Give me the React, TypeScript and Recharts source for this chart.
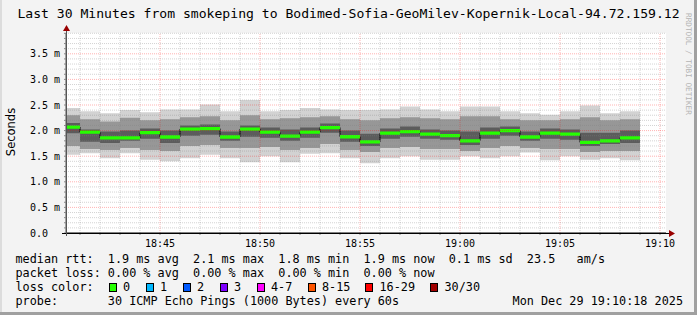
import React from "react"
import { ComposedChart, Area, XAxis, YAxis, CartesianGrid, ReferenceLine } from "recharts"

// minutes after 18:40, start of each 60s sample (first one clipped at 18:40:18)
const sampleStarts = [0.3, 1, 2, 3, 4, 5, 6, 7, 8, 9, 10, 11, 12, 13, 14, 15, 16, 17, 18, 19, 20, 21, 22, 23, 24, 25, 26, 27, 28]
const sampleEnd = 29

// median rtt in ms
const medianMs = [2.07, 1.97, 1.86, 1.86, 1.96, 1.875, 2.03, 2.04, 1.875, 2.03, 1.97, 1.89, 1.97, 2.06, 1.88, 1.78, 1.95, 1.98, 1.93, 1.9, 1.8, 1.95, 2.0, 1.875, 1.95, 1.93, 1.77, 1.8, 1.86]
// smoke bands (ms)
const maxMs = [2.44, 2.38, 2.34, 2.4, 2.36, 2.41, 2.41, 2.51, 2.38, 2.6, 2.38, 2.4, 2.44, 2.41, 2.4, 2.4, 2.41, 2.47, 2.41, 2.38, 2.47, 2.47, 2.38, 2.34, 2.31, 2.38, 2.49, 2.34, 2.38]
const hiMs = [2.3, 2.22, 2.18, 2.25, 2.2, 2.22, 2.26, 2.28, 2.2, 2.3, 2.22, 2.24, 2.26, 2.28, 2.22, 2.2, 2.24, 2.26, 2.24, 2.22, 2.28, 2.28, 2.22, 2.2, 2.2, 2.22, 2.26, 2.2, 2.22]
const hi2Ms = [2.15, 2.02, 1.98, 2.0, 2.04, 2.0, 2.1, 2.12, 1.98, 2.1, 2.06, 2.02, 2.06, 2.14, 2.0, 1.94, 2.04, 2.08, 2.02, 2.0, 1.98, 2.06, 2.08, 1.98, 2.04, 2.02, 1.96, 1.96, 2.0]
const lo2Ms = [1.95, 1.78, 1.76, 1.8, 1.84, 1.76, 1.9, 1.92, 1.8, 1.88, 1.86, 1.8, 1.86, 1.96, 1.78, 1.7, 1.84, 1.88, 1.84, 1.82, 1.72, 1.84, 1.9, 1.8, 1.84, 1.82, 1.7, 1.74, 1.76]
const loMs = [1.7, 1.64, 1.62, 1.66, 1.62, 1.6, 1.7, 1.72, 1.66, 1.66, 1.68, 1.62, 1.66, 1.74, 1.62, 1.58, 1.66, 1.68, 1.64, 1.64, 1.6, 1.66, 1.7, 1.66, 1.64, 1.64, 1.58, 1.6, 1.6]
const minMs = [1.53, 1.56, 1.46, 1.56, 1.43, 1.4, 1.46, 1.53, 1.46, 1.38, 1.5, 1.38, 1.55, 1.56, 1.46, 1.36, 1.46, 1.5, 1.43, 1.43, 1.5, 1.46, 1.5, 1.57, 1.42, 1.5, 1.43, 1.46, 1.42]

const xTickValues = [5, 10, 15, 20, 25, 30]
const xTickLabels = ["18:45", "18:50", "18:55", "19:00", "19:05", "19:10"]
const yTickValues = [0, 0.5, 1, 1.5, 2, 2.5, 3, 3.5]
const yTickLabels = ["0.0", "0.5 m", "1.0 m", "1.5 m", "2.0 m", "2.5 m", "3.0 m", "3.5 m"]

const lossBins = ["0", "1", "2", "3", "4-7", "8-15", "16-29", "30/30"]
const lossColors = ["#26ff00", "#00b8ff", "#0059ff", "#7e00ff", "#ff00ff", "#ff5500", "#ff0000", "#a10000"]

const MONO = "'DejaVu Sans Mono', monospace"

const rows: any[] = sampleStarts.map((t, i) => ({
  t,
  median: medianMs[i],
  outer: [minMs[i], maxMs[i]],
  mid: [loMs[i], hiMs[i]],
  inner: [lo2Ms[i], hi2Ms[i]],
  green: [medianMs[i] - 0.032, medianMs[i] + 0.032],
}))
rows.push({ ...rows[rows.length - 1], t: sampleEnd })

const minorX = Array.from({ length: 30 }, (_, i) => i + 1)
const minorY = Array.from({ length: 39 }, (_, i) => Math.round((i + 1) * 10) / 100)
const isMajorY = (v: number) => Math.abs(v * 2 - Math.round(v * 2)) < 1e-6

const XTick = ({ x, y, payload }: any) => {
  const idx = xTickValues.indexOf(payload.value)
  if (idx < 0) return null
  return (
    <text x={x} y={y + 10} textAnchor="middle" fontFamily={MONO} fontSize={10} fill="#000">
      {xTickLabels[idx]}
    </text>
  )
}

const YTick = ({ x, y, payload }: any) => {
  const idx = yTickValues.findIndex((v) => Math.abs(v - payload.value) < 1e-6)
  if (idx < 0) return null
  return (
    <text x={x - 30} y={y + 3.5} textAnchor="start" fontFamily={MONO} fontSize={10} fill="#000">
      {yTickLabels[idx]}
    </text>
  )
}

const legendLine = (top: number): React.CSSProperties => ({
  position: "absolute",
  left: 15.5,
  top,
  fontFamily: MONO,
  fontSize: 11.8,
  lineHeight: "14px",
  whiteSpace: "pre",
  color: "#000",
})

export default function App() {
  const swatchX = [108.5, 145.5, 182.5, 219.5, 256.5, 307.5, 365, 430]
  return (
    <div
      style={{
        position: "absolute",
        left: 0,
        top: 0,
        width: 697,
        height: 315,
        background: "#f3f3f3",
        overflow: "hidden",
      }}
    >
      <div style={{ position: "absolute", left: 0, top: 0, width: 2, height: 315, background: "#dcdcdc" }} />
      <div style={{ position: "absolute", right: 0, top: 0, width: 3, height: 315, background: "#a0a0a0" }} />
      <div style={{ position: "absolute", left: 0, bottom: 0, width: 697, height: 3, background: "#a0a0a0" }} />

      <div
        style={{
          position: "absolute",
          left: 0,
          top: 6,
          width: 697,
          textAlign: "center",
          fontFamily: MONO,
          fontSize: 13.1,
          lineHeight: "16px",
          whiteSpace: "pre",
          color: "#000",
        }}
      >
        Last 30 Minutes from smokeping to Bodimed-Sofia-GeoMilev-Kopernik-Local-94.72.159.12
      </div>

      <div
        style={{
          position: "absolute",
          left: 684,
          top: 13,
          writingMode: "vertical-rl",
          fontFamily: MONO,
          fontSize: 7.7,
          color: "#b4b4b4",
          whiteSpace: "pre",
        }}
      >
        RRDTOOL / TOBI OETIKER
      </div>

      <div
        style={{
          position: "absolute",
          left: 11,
          top: 132,
          transform: "translate(-50%, -50%) rotate(-90deg)",
          fontFamily: "'DejaVu Sans', sans-serif",
          fontSize: 11.5,
          color: "#000",
          whiteSpace: "pre",
        }}
      >
        Seconds
      </div>

      <div style={{ position: "absolute", left: 0, top: 0 }}>
        <ComposedChart width={697} height={315} data={rows} margin={{ top: 33, right: 31, bottom: 62, left: 0 }}>
          <CartesianGrid fill="#ffffff" horizontal={false} vertical={false} />
          <XAxis
            type="number"
            dataKey="t"
            domain={[0.3, 30.3]}
            ticks={minorX}
            interval={0}
            allowDataOverflow
            height={20}
            tickSize={2}
            tickMargin={2}
            tick={<XTick />}
            axisLine={{ stroke: "#000" }}
            tickLine={{ stroke: "#888" }}
          />
          <YAxis
            type="number"
            domain={[0, 3.90625]}
            ticks={[0, ...minorY]}
            interval={0}
            allowDataOverflow
            width={66}
            tickSize={2}
            tickMargin={4}
            tick={<YTick />}
            axisLine={{ stroke: "#555" }}
            tickLine={{ stroke: "#888" }}
          />
          <Area type="stepAfter" dataKey="outer" stroke="none" fill="#d2d2d2" fillOpacity={1} isAnimationActive={false} />
          <Area type="stepAfter" dataKey="mid" stroke="none" fill="#979797" fillOpacity={1} isAnimationActive={false} />
          <Area type="stepAfter" dataKey="inner" stroke="none" fill="#5c5c5c" fillOpacity={1} isAnimationActive={false} />
          <Area type="stepAfter" dataKey="median" stroke="#000" strokeWidth={1} fill="none" isAnimationActive={false} />
          <Area type="stepAfter" dataKey="green" stroke="none" fill="#26ff00" fillOpacity={1} isAnimationActive={false} />

          {minorY.filter((v) => !isMajorY(v)).map((v) => (
            <ReferenceLine key={"hy" + v} y={v} stroke="rgba(128,128,128,0.35)" strokeDasharray="1 1" />
          ))}
          {minorX.filter((v) => v % 5 !== 0).map((v) => (
            <ReferenceLine key={"vx" + v} x={v} stroke="rgba(128,128,128,0.35)" strokeDasharray="1 1" />
          ))}
          {yTickValues.slice(1).map((v) => (
            <ReferenceLine key={"HY" + v} y={v} stroke="rgba(255,0,0,0.3)" strokeDasharray="1 1" />
          ))}
          {xTickValues.map((v) => (
            <ReferenceLine key={"VX" + v} x={v} stroke="rgba(255,0,0,0.3)" strokeDasharray="1 1" />
          ))}
        </ComposedChart>
      </div>

      <svg width={697} height={315} style={{ position: "absolute", left: 0, top: 0, pointerEvents: "none" }}>
        <line x1={62} y1={233.5} x2={670} y2={233.5} stroke="#000" strokeWidth={1} />
        <polygon points="669,230 675,233.5 669,237" fill="#990000" />
        <line x1={66.5} y1={236} x2={66.5} y2={31} stroke="#555" strokeWidth={1} />
        <polygon points="63,31 66.5,25 70,31" fill="#990000" />
      </svg>

      <div style={legendLine(252)}>median rtt:  1.9 ms avg  2.1 ms max  1.8 ms min  1.9 ms now  0.1 ms sd  23.5   am/s</div>
      <div style={legendLine(266)}>packet loss: 0.00 % avg  0.00 % max  0.00 % min  0.00 % now</div>
      <div style={legendLine(280)}>loss color:</div>
      {lossBins.map((b, i) => (
        <React.Fragment key={b}>
          <div
            style={{
              position: "absolute",
              left: swatchX[i],
              top: 283,
              width: 6,
              height: 7,
              background: lossColors[i],
              border: "1px solid #000",
            }}
          />
          <div style={{ ...legendLine(280), left: swatchX[i] + 14.5 }}>{b}</div>
        </React.Fragment>
      ))}
      <div style={legendLine(294)}>probe:       30 ICMP Echo Pings (1000 Bytes) every 60s</div>
      <div style={{ ...legendLine(294), left: "auto", right: 14 }}>Mon Dec 29 19:10:18 2025</div>
    </div>
  )
}
